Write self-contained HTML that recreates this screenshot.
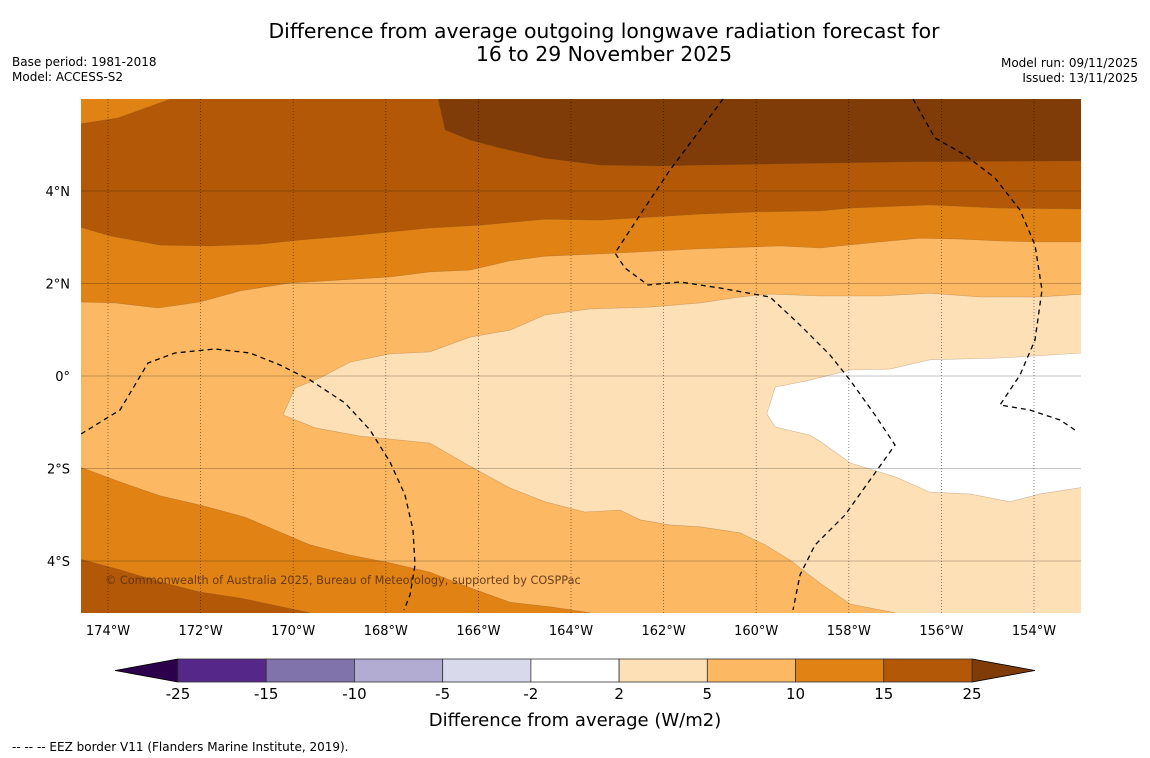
<!DOCTYPE html>
<html><head><meta charset="utf-8">
<style>
html,body{margin:0;padding:0;background:#fff;width:1150px;height:758px;overflow:hidden;font-family:"DejaVu Sans","Liberation Sans",sans-serif;}
</style></head>
<body>
<svg id="chart" width="1150" height="758" xmlns="http://www.w3.org/2000/svg" style="font-family:'DejaVu Sans','Liberation Sans',sans-serif">
<text x="604" y="38" font-size="20.4" text-anchor="middle">Difference from average outgoing longwave radiation forecast for</text>
<text x="604" y="61" font-size="20.4" text-anchor="middle">16 to 29 November 2025</text>
<text x="12" y="66" font-size="12">Base period: 1981-2018</text>
<text x="12" y="81" font-size="12">Model: ACCESS-S2</text>
<text x="1138" y="67" font-size="12" text-anchor="end">Model run: 09/11/2025</text>
<text x="1138" y="82" font-size="12" text-anchor="end">Issued: 13/11/2025</text>
<defs><clipPath id="plotclip"><rect x="81" y="99" width="1000" height="514"/></clipPath></defs>
<g id="plot" clip-path="url(#plotclip)"></g>
<g id="axes"></g>
<g id="cbar"></g>
<text x="575" y="726" font-size="18" text-anchor="middle">Difference from average (W/m2)</text>
<text x="12" y="751" font-size="12">--  --  -- EEZ border V11 (Flanders Marine Institute, 2019).</text>
</svg>
<script>
// lon given as degrees West
const lonTicks = [174,172,170,168,166,164,162,160,158,156,154];
const latTicks = [4,2,0,-2,-4];
const latTickLabels = ["4°N","2°N","0°","2°S","4°S"];
const cbarLevels = ["-25","-15","-10","-5","-2","2","5","10","15","25"];
const cbarColors = ["#542788","#8073ac","#b2abd2","#d8daeb","#ffffff","#fee0b6","#fdb863","#e08214","#b35806"];
const cbarLow = "#2d004b", cbarHigh = "#7f3b08";

// Contour band polygons [lonW, lat]
const band5to10 = [[174.6,6.0],[152.9,6.0],[152.9,-5.2],[174.6,-5.2]];
const band10Top = [[174.6,6.0],[152.9,6.0],[152.9,2.90],[153.87,2.90],[154.73,2.92],[155.60,2.96],[156.46,2.98],[157.33,2.90],[158.62,2.77],[159.49,2.81],[161.21,2.75],[163.37,2.64],[164.56,2.59],[165.32,2.49],[166.18,2.29],[167.05,2.25],[167.91,2.14],[169.42,2.05],[170.07,2.01],[171.15,1.84],[172.01,1.60],[172.92,1.47],[173.85,1.58],[174.6,1.60]];
const band15Top = [[172.62,6.0],[152.9,6.0],[152.9,3.61],[154.73,3.63],[156.25,3.70],[157.97,3.63],[158.62,3.57],[159.92,3.55],[161.21,3.50],[163.37,3.37],[164.56,3.39],[165.97,3.26],[167.05,3.20],[168.77,3.03],[169.85,2.94],[170.72,2.85],[171.80,2.81],[172.88,2.83],[173.96,3.03],[174.6,3.22],[174.6,5.45],[173.78,5.58]];
const band25Top = [[166.87,6.0],[152.9,6.0],[152.9,4.65],[156.89,4.63],[157.97,4.61],[159.92,4.58],[161.21,4.56],[162.08,4.54],[163.37,4.56],[164.56,4.71],[165.53,4.93],[166.18,5.10],[166.72,5.32]];
const band2to5 = [[152.9,1.77],[153.87,1.71],[155.17,1.71],[156.25,1.79],[157.33,1.73],[158.62,1.73],[159.70,1.77],[160.35,1.71],[161.21,1.58],[162.29,1.49],[163.59,1.45],[164.56,1.32],[165.32,0.99],[166.18,0.84],[167.05,0.52],[167.91,0.48],[168.77,0.30],[169.42,-0.04],[169.96,-0.26],[170.22,-0.84],[169.53,-1.12],[168.56,-1.30],[167.05,-1.45],[166.18,-1.95],[165.32,-2.42],[164.56,-2.72],[163.70,-2.94],[162.94,-2.90],[162.51,-3.11],[161.86,-3.22],[161.21,-3.26],[160.35,-3.39],[159.81,-3.65],[159.27,-3.98],[158.62,-4.48],[157.97,-4.93],[157.00,-5.12],[157.00,-5.2],[152.9,-5.2],[152.9,-2.40]];
const bandWhite = [[152.9,0.50],[154.73,0.39],[156.25,0.35],[157.11,0.15],[157.97,0.13],[158.84,-0.09],[159.59,-0.24],[159.77,-0.82],[159.59,-1.10],[158.84,-1.28],[158.62,-1.41],[157.97,-1.88],[157.00,-2.18],[156.25,-2.51],[155.38,-2.55],[154.52,-2.72],[153.87,-2.55],[152.9,-2.40]];
const band10Bot = [[174.6,-1.97],[173.74,-2.29],[172.88,-2.59],[172.01,-2.79],[171.04,-3.05],[170.39,-3.33],[169.64,-3.65],[168.77,-3.87],[167.91,-4.04],[167.05,-4.24],[166.18,-4.58],[165.32,-4.89],[164.45,-4.99],[163.59,-5.12],[163.59,-5.2],[174.6,-5.2]];
const band15Bot = [[174.6,-3.96],[173.74,-4.19],[172.88,-4.45],[172.01,-4.67],[171.15,-4.80],[169.64,-5.12],[169.64,-5.2],[174.6,-5.2]];

const bands = [
 {name:"band-5-to-10", pts:band5to10, c:"#fdb863"},
 {name:"band-10-to-15-north", pts:band10Top, c:"#e08214"},
 {name:"band-15-to-25-north", pts:band15Top, c:"#b35806"},
 {name:"band-above-25-north", pts:band25Top, c:"#7f3b08"},
 {name:"band-2-to-5", pts:band2to5, c:"#fee0b6"},
 {name:"band-minus2-to-2", pts:bandWhite, c:"#ffffff"},
 {name:"band-10-to-15-south", pts:band10Bot, c:"#e08214"},
 {name:"band-15-to-25-south", pts:band15Bot, c:"#b35806"}
];

const NS="http://www.w3.org/2000/svg";
function x(lonW){return 108+(174-lonW)*46.3;}
function y(lat){return 376-lat*46.25;}
function mk(tag,attrs,parent){const e=document.createElementNS(NS,tag);for(const k in attrs)e.setAttribute(k,attrs[k]);parent.appendChild(e);return e;}
const plot=document.getElementById('plot'), axes=document.getElementById('axes'), cbar=document.getElementById('cbar');

bands.forEach(b=>{
 const p=mk('polygon',{points:b.pts.map(q=>x(q[0]).toFixed(1)+","+y(q[1]).toFixed(1)).join(" "),fill:b.c,stroke:"rgba(120,80,40,0.35)","stroke-width":"0.6"},plot);
 
 
});
lonTicks.forEach(l=>{
 const g=mk('line',{x1:x(l),x2:x(l),y1:99,y2:613,stroke:"rgba(0,0,0,0.55)","stroke-width":"0.8","stroke-dasharray":"1,2"},plot);
 
 
 const t=mk('text',{x:x(l),y:635,"font-size":"13","text-anchor":"middle"},axes);
 t.textContent=l+"°W";
 
 
});
latTicks.forEach((l,i)=>{
 const g=mk('line',{x1:81,x2:1081,y1:y(l),y2:y(l),stroke:"rgba(0,0,0,0.3)","stroke-width":"0.8"},plot);
 
 
 const t=mk('text',{x:70,y:y(l)+5,"font-size":"13","text-anchor":"end"},axes);
 t.textContent=latTickLabels[i];
 
 
});
const eez=["M81,434 L120,410 L148,363 L175,353 L215,349 L250,353 L280,365 L310,380 L345,403 L370,430 L390,462 L405,495 L413,530 L415,565 L410,595 L404,610",
"M723,99 L700,130 L670,170 L640,215 L615,253 L625,268 L648,285 L680,282 L720,288 L770,297 L800,325 L830,355 L850,380 L875,415 L895,445 L870,480 L845,515 L815,545 L800,575 L793,610",
"M913,99 L935,138 L965,155 L995,178 L1020,210 L1035,245 L1042,290 L1035,340 L1020,375 L1000,405 L1030,410 L1060,420 L1078,432"];
eez.forEach(d=>{
 const p=mk('path',{d:d,fill:"none",stroke:"#000","stroke-width":"1.3","stroke-dasharray":"5,4"},plot);
 
 
});
const cr=mk('text',{x:105,y:584,"font-size":"11.3",fill:"rgba(90,50,20,0.9)"},plot);
cr.textContent="© Commonwealth of Australia 2025, Bureau of Meteorology, supported by COSPPac";



const cx0=178, cx1=972, cy=659, ch=23, n=cbarColors.length, sw=(cx1-cx0)/n;
const lt=mk('polygon',{points:`${cx0},${cy} ${cx0},${cy+ch} 115,${cy+ch/2}`,fill:cbarLow,stroke:"#000","stroke-width":"0.8"},cbar);


const rt=mk('polygon',{points:`${cx1},${cy} ${cx1},${cy+ch} 1035,${cy+ch/2}`,fill:cbarHigh,stroke:"#000","stroke-width":"0.8"},cbar);


cbarColors.forEach((c,i)=>{
 const r=mk('rect',{x:cx0+i*sw,y:cy,width:sw,height:ch,fill:c,stroke:"#333","stroke-width":"0.8"},cbar);
 
 
});
cbarLevels.forEach((l,i)=>{
 const t=mk('text',{x:cx0+i*sw,y:699,"font-size":"15","text-anchor":"middle"},cbar);
 t.textContent=l;
 
 
});
</script>
</body></html>
